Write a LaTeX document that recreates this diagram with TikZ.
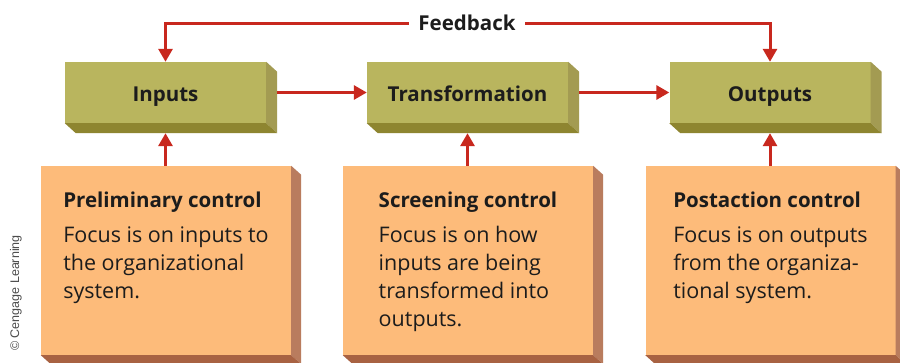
\documentclass[tikz,border=0pt]{standalone}
\usepackage{fontspec}
\setmainfont{Open Sans}
\newfontfamily\credfont{Liberation Sans}
\usetikzlibrary{arrows.meta,calc}
\definecolor{gfront}{RGB}{185,181,94}
\definecolor{gside}{RGB}{163,155,82}
\definecolor{gbot}{RGB}{142,133,48}
\definecolor{ofront}{RGB}{253,187,122}
\definecolor{oside}{RGB}{185,124,94}
\definecolor{obot}{RGB}{168,98,66}
\definecolor{ared}{RGB}{200,40,30}
\definecolor{tdark}{RGB}{28,28,28}
\newcommand{\hd}[1]{{\fontsize{20.5}{28}\selectfont\bfseries #1}}
\tikzset{
  gbox/.style={rectangle, fill=gfront, minimum width=201pt, minimum height=61pt, inner sep=0pt,
    text height=19pt, text depth=0pt,
    font=\fontsize{20.5}{24}\selectfont\bfseries, text=tdark},
  obox/.style={rectangle, fill=ofront, minimum width=250pt, minimum height=189pt, inner sep=0pt},
  otext/.style={anchor=north, align=left, inner sep=0pt, font=\fontsize{21.5}{28}\selectfont, text=tdark},
  flow/.style={draw=ared, line width=3pt, -{Triangle[width=14pt,length=13pt]}},
}
\begin{document}
\begin{tikzpicture}[x=1pt,y=-1pt]
\clip (0,0) rectangle (900,363);
\useasboundingbox (0,0) rectangle (900,363);
\fill[white] (0,0) rectangle (900,363);
% green boxes
\foreach \nm/\cx/\txt in {inp/165.5/Inputs, tra/467.5/Transformation, out/770/Outputs}{
  \node[gbox] (\nm) at (\cx,92.5) {\txt};
  \fill[gside] (\nm.north east) -- ($(\nm.north east)+(11,10)$) -- ($(\nm.south east)+(11,10)$) -- (\nm.south east) -- cycle;
  \fill[gbot] (\nm.south west) -- (\nm.south east) -- ($(\nm.south east)+(11,10)$) -- ($(\nm.south west)+(11,10)$) -- cycle;
}
% orange boxes
\foreach \nm/\cx in {pre/166, scr/468, pos/770.5}{
  \node[obox] (\nm) at (\cx,260.5) {};
  \fill[oside] (\nm.north east) -- ($(\nm.north east)+(10,9)$) -- ($(\nm.south east)+(10,9)$) -- (\nm.south east) -- cycle;
  \fill[obot] (\nm.south west) -- (\nm.south east) -- ($(\nm.south east)+(10,9)$) -- ($(\nm.south west)+(10,9)$) -- cycle;
}
\node[otext] (pret) at (166,191.5) {\hd{Preliminary control}\\[7pt]Focus is on inputs to\\the organizational\\system.};
\node[otext] (scrt) at (468,191.5) {\hd{Screening control}\\[7pt]Focus is on how\\inputs are being\\transformed into\\outputs.};
\node[otext] (post) at (770.5,191.5) {\hd{Postaction control}\\[7pt]Focus is on outputs\\from the organiza-\\tional system.};
% flows
\draw[flow] ($(inp.east)+(11,0)$) -- (tra.west);
\draw[flow] ($(tra.east)+(11,0)$) -- (out.west);
\draw[flow] (pre.north -| inp) -- ($(inp.south)+(0,10)$);
\draw[flow] (scr.north -| tra) -- ($(tra.south)+(0,10)$);
\draw[flow] (pos.north -| out) -- ($(out.south)+(0,10)$);
\coordinate (fb) at (467,24);
\draw[flow, {Triangle[width=14pt,length=13pt]}-{Triangle[width=14pt,length=13pt]}] (inp.north) |- (fb) -| (out.north);
\node[fill=white, anchor=base, inner xsep=9pt, inner ysep=3pt, font=\fontsize{20.5}{24}\selectfont\bfseries, text=tdark] (fbl) at (467,31) {Feedback};
\node[rotate=90, font=\credfont\fontsize{12.5}{14}\selectfont, text=black!70, inner sep=0pt] (cred) at (16,293) {\textcopyright\ Cengage Learning};
\end{tikzpicture}
\end{document}
